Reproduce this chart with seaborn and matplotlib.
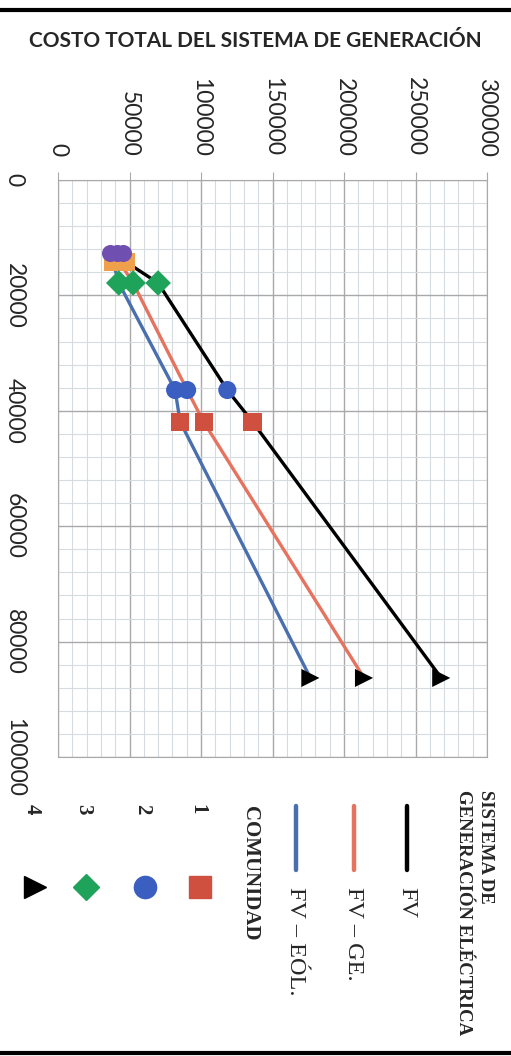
import matplotlib
matplotlib.use("Agg")
import matplotlib.pyplot as plt
from matplotlib.lines import Line2D
from matplotlib.ticker import MultipleLocator
import pandas as pd
import seaborn as sns

# --- Datos (demanda vs costo total)
demanda = [14200, 17850, 36400, 41900, 86300]
comunidad = ["0", "3", "2", "1", "4"]  # "0" = primer punto sin leyenda
costo_fv = [47500, 70000, 118400, 136000, 268000]
costo_fv_ge = [43000, 52500, 90300, 101800, 214000]
costo_fv_eol = [38500, 42500, 81900, 85400, 176500]
sistemas = ["FV", "FV – GE.", "FV – EÓL."]

# puntos morados sueltos encima del primer punto
demanda_extra = [12650, 12650, 12650]
costo_extra = [36300, 41200, 45400]

colores_linea = {"FV": "black", "FV – GE.": "#e5735f", "FV – EÓL.": "#4a6fae"}
colores_com = {"0": "#f0a04b", "1": "#d0503f", "2": "#3b5fc0", "3": "#1fa35a", "4": "black"}
marcadores = {"0": "s", "1": "s", "2": "o", "3": "D", "4": ">"}

W, H = 511, 1056


def fx(x):
    return x / W


def fy(y):
    return 1 - y / H


sns.set_style("white")
plt.rcParams["font.family"] = ["Lato", "DejaVu Sans"]

df_lineas = pd.DataFrame({
    "demanda": demanda * 3,
    "costo": costo_fv + costo_fv_ge + costo_fv_eol,
    "sistema": [s for s in sistemas for _ in demanda],
    "comunidad": comunidad * 3,
})
df_extra = pd.DataFrame({"demanda": demanda_extra, "costo": costo_extra})

fig = plt.figure(figsize=(W / 100, H / 100), dpi=100)
ax = fig.add_axes([fx(58), fy(757), fx(487) - fx(58), fy(180) - fy(757)])

sns.lineplot(data=df_lineas, x="costo", y="demanda", hue="sistema", palette=colores_linea,
             sort=False, estimator=None, legend=False, linewidth=2.4, ax=ax, zorder=3)
sns.scatterplot(data=df_lineas, x="costo", y="demanda", hue="comunidad", style="comunidad",
                palette=colores_com, markers=marcadores, s=170, linewidth=0,
                legend=False, ax=ax, zorder=4)
sns.scatterplot(data=df_extra, x="costo", y="demanda", color="#6f4fb0", marker="o",
                s=150, linewidth=0, legend=False, ax=ax, zorder=5)

ax.set_xlim(0, 300000)
ax.set_ylim(100000, 0)
ax.xaxis.tick_top()
ax.xaxis.set_major_locator(MultipleLocator(50000))
ax.xaxis.set_minor_locator(MultipleLocator(10000))
ax.yaxis.set_major_locator(MultipleLocator(20000))
ax.yaxis.set_minor_locator(MultipleLocator(4000))
ax.grid(which="major", color="#a9a9a9", linewidth=1.0)
ax.grid(which="minor", color="#d6dbe0", linewidth=0.8)
ax.set_axisbelow(True)
for sp in ax.spines.values():
    sp.set_color("#a9a9a9")
ax.set_xlabel("")
ax.set_ylabel("")
ax.tick_params(axis="x", which="major", labelrotation=-90, length=6, color="#a9a9a9",
               pad=11, labelsize=16.5)
ax.tick_params(axis="y", which="major", labelrotation=-90, length=5, color="#a9a9a9",
               pad=19, labelsize=16.5)
ax.tick_params(which="minor", length=0)
for t in ax.get_yticklabels():
    t.set_va("center")

fig.text(0.5, fy(41), "COSTO TOTAL DEL SISTEMA DE GENERACIÓN", ha="center", va="center",
         fontsize=15, fontweight="bold")

# bordes de la página escaneada
fig.add_artist(Line2D([0, 1], [fy(10), fy(10)], color="black", lw=3))
fig.add_artist(Line2D([0, 1], [fy(1053), fy(1053)], color="black", lw=3))

# --- Leyenda girada
serif = ["Liberation Serif", "DejaVu Serif"]
fig.text(fx(485), fy(790), "SISTEMA DE", rotation=-90, ha="center", va="top",
         family=serif, fontweight="bold", fontsize=13.5)
fig.text(fx(463), fy(790), "GENERACIÓN ELÉCTRICA", rotation=-90, ha="center", va="top",
         family=serif, fontweight="bold", fontsize=13.5)

for xp, s in zip([407, 354, 296], sistemas):
    fig.add_artist(Line2D([fx(xp), fx(xp)], [fy(806), fy(870)], color=colores_linea[s], lw=3.2))
    fig.text(fx(xp), fy(887), s, rotation=-90, ha="center", va="top", family=serif, fontsize=17.5)

fig.text(fx(250), fy(806), "COMUNIDAD", rotation=-90, ha="center", va="top",
         family=serif, fontweight="bold", fontsize=15)
for xp, c in zip([200, 145, 86, 35], ["1", "2", "3", "4"]):
    fig.text(fx(xp - 3), fy(804), c, rotation=-90, ha="center", va="top",
             family=serif, fontweight="bold", fontsize=15)
    fig.add_artist(Line2D([fx(xp)], [fy(887)], marker=marcadores[c], color=colores_com[c],
                          markersize=16 if c != "3" else 13, linestyle="none"))

fig.savefig("out.png", dpi=100)
